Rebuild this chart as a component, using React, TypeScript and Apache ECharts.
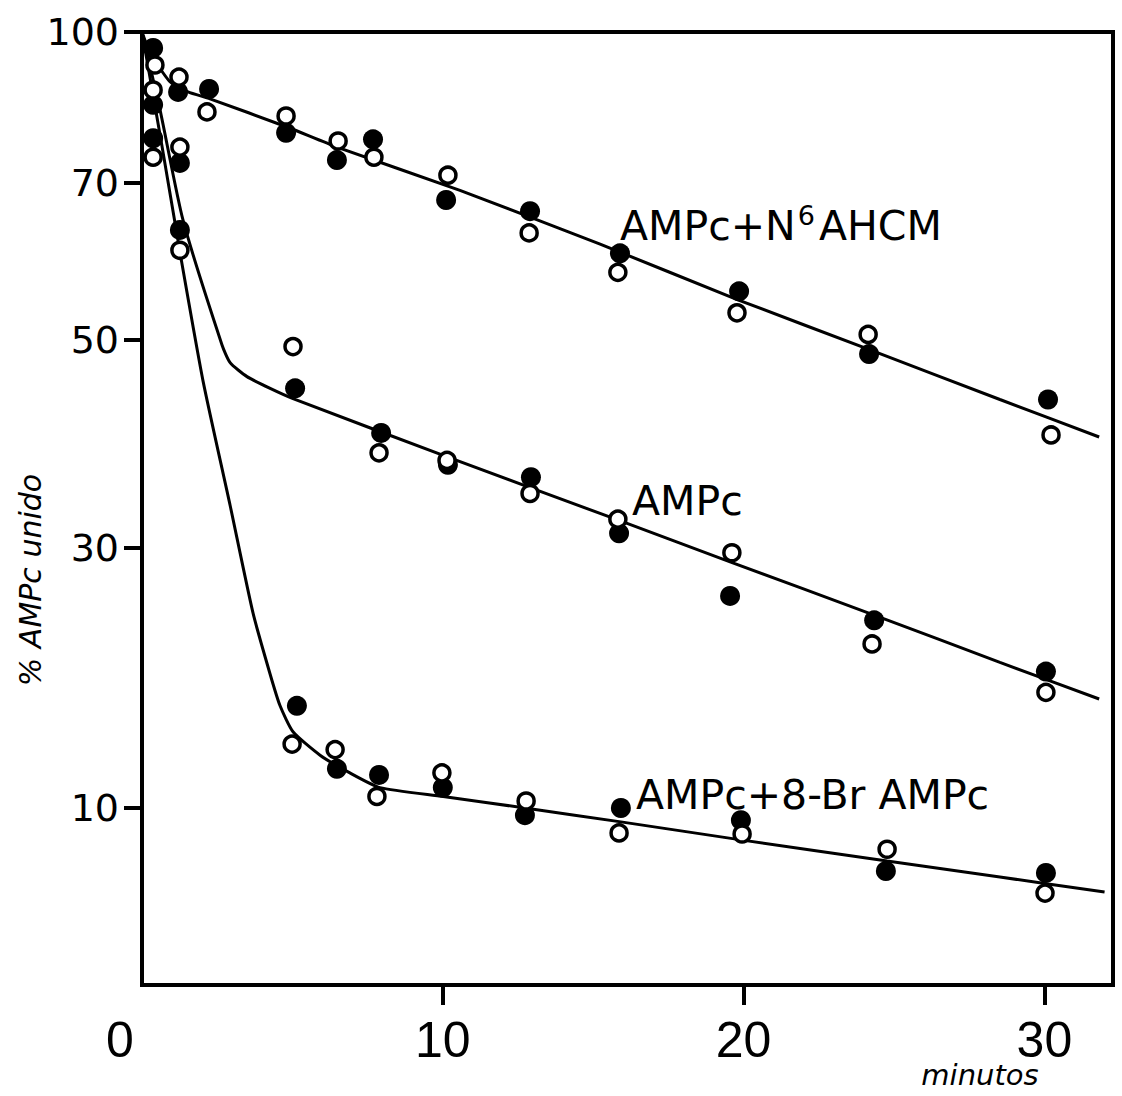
import React, { useEffect, useRef } from "react";
import * as echarts from "echarts";

// ---- data: [minutes, % AMPc unido] ----
const N6_FILLED: [number, number][] = [
  [0.37, 96.3], [1.2, 86.8], [2.23, 87.4], [4.79, 78.8], [6.48, 73.9], [7.68, 77.6],
  [10.11, 67.5], [12.9, 65.9], [15.89, 60.2], [19.85, 55.5], [24.17, 48.3], [30.12, 43.2],
];
const N6_OPEN: [number, number][] = [
  [0.43, 92.5], [1.23, 89.9], [2.16, 82.8], [4.79, 82.0], [6.52, 77.3], [7.71, 74.4],
  [10.17, 71.3], [12.87, 62.9], [15.82, 57.8], [19.78, 53.0], [24.14, 50.6], [30.22, 39.6],
];
const N6_CURVE: [number, number][] = [
  [0, 100], [0.27, 95.2], [0.93, 88.9], [1.53, 86.8], [2.26, 85.4], [4.82, 79.9],
  [6.48, 76.2], [10.57, 68.9], [15.23, 61.4], [19.81, 54.5], [24.14, 48.9], [28.52, 43.2], [31.82, 39.4],
];

const AMPC_FILLED: [number, number][] = [
  [0.37, 84.2], [1.26, 73.4], [5.09, 44.4], [7.95, 39.8], [10.17, 36.8], [12.93, 35.7],
  [15.86, 31.1], [19.55, 24.5], [24.34, 22.1], [30.05, 17.8],
];
const AMPC_OPEN: [number, number][] = [
  [0.37, 87.2], [1.26, 76.2], [5.02, 49.2], [7.88, 37.9], [10.14, 37.2], [12.9, 34.3],
  [15.82, 32.2], [19.61, 29.4], [24.27, 20.0], [30.05, 16.3],
];
const AMPC_CURVE: [number, number][] = [
  [0, 100], [0.6, 83.2], [1.36, 64.7], [2.66, 49.4], [2.93, 47.3], [3.49, 45.7], [4.26, 44.4],
  [5.02, 43.3], [10.17, 37.5], [15.86, 32.1], [19.55, 28.3], [24.34, 22.6], [28.52, 18.5], [31.82, 15.85],
];

const BR_FILLED: [number, number][] = [
  [0.37, 77.8], [1.26, 63.3], [5.15, 15.4], [6.48, 11.8], [7.88, 11.5], [10.0, 10.9],
  [12.73, 9.7], [15.92, 10.0], [19.91, 9.5], [24.73, 7.66], [30.05, 7.6],
];
const BR_OPEN: [number, number][] = [
  [0.37, 74.4], [1.26, 60.6], [4.99, 13.1], [6.42, 12.8], [7.81, 10.5], [9.97, 11.6],
  [12.77, 10.3], [15.86, 9.0], [19.95, 8.96], [24.77, 8.4], [30.02, 6.98],
];
const BR_CURVE: [number, number][] = [
  [0, 100], [0.63, 77.5], [1.26, 60.4], [2.03, 45.2], [2.93, 33.3], [3.69, 22.8], [4.26, 17.6],
  [4.59, 15.4], [5.02, 13.8], [5.92, 12.5], [6.91, 11.6], [7.91, 10.9], [10.01, 10.5], [12.73, 10.0],
  [15.92, 9.43], [19.91, 8.74], [24.77, 7.99], [28.52, 7.47], [32.0, 7.01],
];

// ---- axes ----
const X_MAX = 32.28;
const X_TICKS = [10, 20, 30];
const X_LABELS = [0, 10, 20, 30];
const Y_TICK_VALUES = [100, 70, 50, 30, 10];
const Y_TICK_LABELS = ["100", "70", "50", "30", "10"];
// the printed ordinate is an irregular (hand-drawn) scale: knot heights of each tick
const Y_SCALE_KNOTS = [953, 802, 645, 437, 177];
const Y_SCALE_MAX = 953;

function toScale(v: number): number {
  const lv = Math.log10(v);
  const lk = Y_TICK_VALUES.map((k) => Math.log10(k));
  const n = lk.length;
  let i = 0;
  if (lv >= lk[0]) i = 0;
  else if (lv <= lk[n - 1]) i = n - 2;
  else {
    for (let j = 0; j < n - 1; j++) {
      if (lv <= lk[j] && lv >= lk[j + 1]) { i = j; break; }
    }
  }
  const a = lk[i], b = lk[i + 1];
  return Y_SCALE_KNOTS[i] + ((lv - a) / (b - a)) * (Y_SCALE_KNOTS[i + 1] - Y_SCALE_KNOTS[i]);
}

const conv = (arr: [number, number][]) => arr.map(([t, v]) => [t, toScale(v)]);

const LABEL_FONT = "DejaVu Sans";
const X_FONT = "'Liberation Sans', Arial, sans-serif";

export default function App() {
  const ref = useRef<HTMLDivElement>(null);
  useEffect(() => {
    if (!ref.current) return;
    const chart = echarts.init(ref.current, undefined, { renderer: "svg" });
    const tickU = Y_TICK_VALUES.map(toScale);
    const lineSeries = (data: [number, number][]) => ({
      type: "line",
      data: conv(data),
      showSymbol: false,
      smooth: 0.2,
      lineStyle: { color: "#000", width: 3, opacity: 1 },
      z: 2,
      silent: true,
    });
    const filled = (data: [number, number][]) => ({
      type: "scatter",
      data: conv(data),
      symbol: "circle",
      symbolSize: 20,
      itemStyle: { color: "#000", opacity: 1 },
      z: 3,
    });
    const open = (data: [number, number][]) => ({
      type: "scatter",
      data: conv(data),
      symbol: "circle",
      symbolSize: 16,
      itemStyle: { color: "#fff", borderColor: "#000", borderWidth: 3.5, opacity: 1 },
      z: 4,
    });
    const option: any = {
      animation: false,
      backgroundColor: "#fff",
      grid: {
        left: 142, top: 32, right: 9, bottom: 111,
        show: true, borderColor: "#000", borderWidth: 4,
        outerBoundsMode: "none",
      },
      xAxis: {
        type: "value", min: 0, max: X_MAX,
        axisLine: { show: true, onZero: false, lineStyle: { color: "#000", width: 4 } },
        axisTick: { show: true, customValues: X_TICKS, length: 20, inside: false, lineStyle: { color: "#000", width: 4 } },
        axisLabel: {
          customValues: X_LABELS, margin: 30, color: "#000", fontSize: 50,
          fontFamily: X_FONT,
          formatter: (v: number) => (v === 0 ? "{z|0}" : String(v)),
          rich: { z: { fontSize: 50, color: "#000", fontFamily: X_FONT, padding: [0, 44, 0, 0] } },
        },
        splitLine: { show: false },
      },
      yAxis: {
        type: "value", min: 0, max: Y_SCALE_MAX,
        axisLine: { show: true, onZero: false, lineStyle: { color: "#000", width: 4 } },
        axisTick: { show: true, customValues: tickU, length: 18, inside: false, lineStyle: { color: "#000", width: 4 } },
        axisLabel: {
          customValues: tickU, margin: 23, color: "#000", fontSize: 38, fontFamily: LABEL_FONT,
          formatter: (v: number) => {
            let best = 0;
            tickU.forEach((u, i) => { if (Math.abs(u - v) < Math.abs(tickU[best] - v)) best = i; });
            return Y_TICK_LABELS[best];
          },
        },
        splitLine: { show: false },
      },
      graphic: [
        {
          type: "text", x: 30, y: 580, rotation: Math.PI / 2,
          style: { text: "% AMPc unido", fontSize: 30, fontStyle: "italic", fontFamily: LABEL_FONT, fill: "#000", align: "center", verticalAlign: "middle" },
        },
        {
          type: "text", x: 980, y: 1075,
          style: { text: "minutos", fontSize: 29, fontStyle: "italic", fontFamily: LABEL_FONT, fill: "#000", align: "center", verticalAlign: "middle" },
        },
        {
          type: "text", x: 620, y: 226,
          style: {
            text: "{a|AMPc+N}{s|6}{a|AHCM}", verticalAlign: "middle", align: "left",
            rich: {
              a: { fontSize: 41, fontFamily: LABEL_FONT, fill: "#000", color: "#000", lineHeight: 48 },
              s: { fontSize: 27, fontFamily: LABEL_FONT, fill: "#000", color: "#000", lineHeight: 48, verticalAlign: "top", padding: [0, 4, 0, 2] },
            },
          },
        },
        {
          type: "text", x: 632, y: 501,
          style: { text: "AMPc", fontSize: 41, fontFamily: LABEL_FONT, fill: "#000", align: "left", verticalAlign: "middle" },
        },
        {
          type: "text", x: 636, y: 795,
          style: { text: "AMPc+8-Br AMPc", fontSize: 41, fontFamily: LABEL_FONT, fill: "#000", align: "left", verticalAlign: "middle" },
        },
      ],
      series: [
        lineSeries(N6_CURVE), lineSeries(AMPC_CURVE), lineSeries(BR_CURVE),
        filled(N6_FILLED), filled(AMPC_FILLED), filled(BR_FILLED),
        open(N6_OPEN), open(AMPC_OPEN), open(BR_OPEN),
      ],
    };
    chart.setOption(option);
    return () => chart.dispose();
  }, []);
  return (
    <div
      ref={ref}
      style={{ position: "fixed", left: 0, top: 0, width: 1122, height: 1096, background: "#fff" }}
    />
  );
}
